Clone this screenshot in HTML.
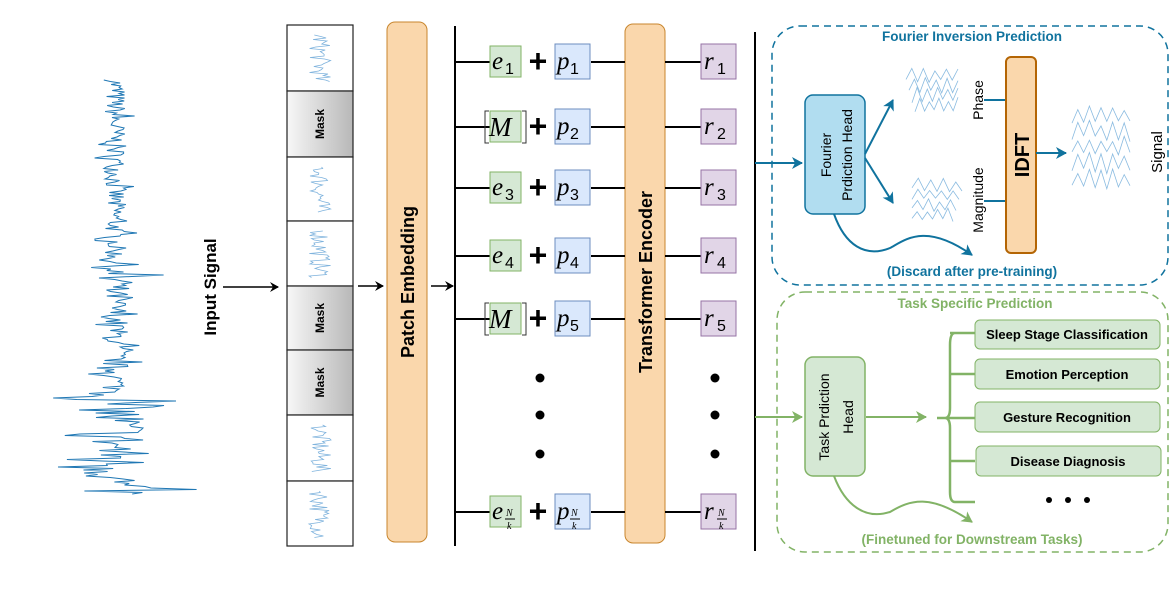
<!DOCTYPE html>
<html><head><meta charset="utf-8"><style>
html,body{margin:0;padding:0;background:#fff;width:1174px;height:590px;overflow:hidden}
svg{display:block}
text{font-family:"Liberation Sans",sans-serif}
.m{font-family:"Liberation Serif",serif;font-style:italic}
</style></head><body>
<svg id="s" width="1174" height="590" viewBox="0 0 1174 590" xmlns="http://www.w3.org/2000/svg">
<defs>
<linearGradient id="g" x1="0" x2="1" y1="0" y2="0"><stop offset="0" stop-color="#f7f7f7"/><stop offset="1" stop-color="#b8b8b8"/></linearGradient>
<marker id="ak" markerWidth="10" markerHeight="10" refX="8" refY="5" orient="auto" markerUnits="userSpaceOnUse"><path d="M0,0 L9,5 L0,10 L3,5 Z" fill="#000"/></marker>
<marker id="ab" markerWidth="12" markerHeight="12" refX="10" refY="6" orient="auto" markerUnits="userSpaceOnUse"><path d="M0,0 L11,6 L0,12 L3,6 Z" fill="#10739e"/></marker>
<marker id="ag" markerWidth="12" markerHeight="12" refX="10" refY="6" orient="auto" markerUnits="userSpaceOnUse"><path d="M0,0 L11,6 L0,12 L3,6 Z" fill="#82b366"/></marker>
</defs>
<g id="wave"></g>
<text transform="translate(216,287) rotate(-90)" text-anchor="middle" font-size="17" font-weight="bold">Input Signal</text>
<line x1="223" y1="287" x2="278" y2="287" stroke="#000" stroke-width="1.5" marker-end="url(#ak)"/>
<g id="patches"></g>
<line x1="358" y1="286" x2="383" y2="286" stroke="#000" stroke-width="1.5" marker-end="url(#ak)"/>
<rect x="387" y="22" width="40" height="520" rx="8" fill="#fad7ac" stroke="#c8862e" stroke-width="1"/>
<text transform="translate(414,282) rotate(-90)" text-anchor="middle" font-size="18" font-weight="bold">Patch Embedding</text>
<line x1="431" y1="286" x2="453" y2="286" stroke="#000" stroke-width="1.5" marker-end="url(#ak)"/>
<line x1="455" y1="26" x2="455" y2="546" stroke="#000" stroke-width="2"/>
<rect x="625" y="24" width="40" height="519" rx="8" fill="#fad7ac" stroke="#c8862e" stroke-width="1"/>
<text transform="translate(652,282) rotate(-90)" text-anchor="middle" font-size="18" font-weight="bold">Transformer Encoder</text>
<line x1="755" y1="32" x2="755" y2="551" stroke="#000" stroke-width="2"/>
<g id="rows"></g>
<g fill="#000"><circle cx="540" cy="378" r="4.5"/><circle cx="540" cy="415" r="4.5"/><circle cx="540" cy="454" r="4.5"/>
<circle cx="715" cy="378" r="4.5"/><circle cx="715" cy="415" r="4.5"/><circle cx="715" cy="454" r="4.5"/></g>
<rect x="772" y="26" width="396" height="259" rx="28" fill="none" stroke="#10739e" stroke-width="1.5" stroke-dasharray="7,5"/>
<text x="972" y="41" text-anchor="middle" font-size="13.5" font-weight="bold" fill="#10739e">Fourier Inversion Prediction</text>
<line x1="755" y1="163" x2="802" y2="163" stroke="#10739e" stroke-width="2" marker-end="url(#ab)"/>
<rect x="805" y="95" width="60" height="119" rx="8" fill="#b1ddf0" stroke="#10739e" stroke-width="1.5"/>
<text transform="translate(831,155) rotate(-90)" text-anchor="middle" font-size="14">Fourier</text>
<text transform="translate(852,155) rotate(-90)" text-anchor="middle" font-size="14">Prdiction Head</text>
<line x1="865" y1="154" x2="893" y2="100" stroke="#10739e" stroke-width="2" marker-end="url(#ab)"/>
<line x1="865" y1="158" x2="893" y2="203" stroke="#10739e" stroke-width="2" marker-end="url(#ab)"/>
<path d="M834,214 C845,245 865,258 890,248 C905,240 925,222 972,255" fill="none" stroke="#10739e" stroke-width="2" marker-end="url(#ab)"/>
<g id="fw" fill="none" stroke="#5a9fd4" stroke-width="0.8" opacity="0.7"></g>
<text transform="translate(983,100) rotate(-90)" text-anchor="middle" font-size="14">Phase</text>
<text transform="translate(983,200) rotate(-90)" text-anchor="middle" font-size="14">Magnitude</text>
<line x1="984" y1="100" x2="1006" y2="100" stroke="#10739e" stroke-width="2"/>
<line x1="984" y1="201" x2="1006" y2="201" stroke="#10739e" stroke-width="2"/>
<rect x="1006" y="57" width="30" height="196" rx="5" fill="#fad7ac" stroke="#b46504" stroke-width="2"/>
<text transform="translate(1029,155) rotate(-90)" text-anchor="middle" font-size="20" font-weight="bold">IDFT</text>
<line x1="1036" y1="153" x2="1066" y2="153" stroke="#10739e" stroke-width="2" marker-end="url(#ab)"/>
<text transform="translate(1162,152) rotate(-90)" text-anchor="middle" font-size="15">Signal</text>
<text x="972" y="276" text-anchor="middle" font-size="13.5" font-weight="bold" fill="#10739e">(Discard after pre-training)</text>
<rect x="777" y="292" width="391" height="260" rx="28" fill="none" stroke="#82b366" stroke-width="1.5" stroke-dasharray="7,5"/>
<text x="975" y="308" text-anchor="middle" font-size="13.5" font-weight="bold" fill="#82b366">Task Specific Prediction</text>
<line x1="755" y1="417" x2="802" y2="417" stroke="#82b366" stroke-width="2" marker-end="url(#ag)"/>
<rect x="805" y="357" width="60" height="119" rx="8" fill="#d5e8d4" stroke="#82b366" stroke-width="1.5"/>
<text transform="translate(829,417) rotate(-90)" text-anchor="middle" font-size="14">Task Prdiction</text>
<text transform="translate(853,417) rotate(-90)" text-anchor="middle" font-size="14">Head</text>
<line x1="866" y1="417" x2="926" y2="417" stroke="#82b366" stroke-width="2" marker-end="url(#ag)"/>
<path d="M937,418 L950,418 M955,333 Q950,333 950,345 L950,408 Q950,418 945,418 Q950,418 950,428 L950,492 Q950,502 955,502 M950,333 L975,333 M950,374 L975,374 M950,418 L975,418 M950,461 L975,461 M955,502 L975,502" fill="none" stroke="#82b366" stroke-width="2.5"/>
<path d="M834,476 C845,505 865,520 890,512 C910,500 930,493 972,522" fill="none" stroke="#82b366" stroke-width="2" marker-end="url(#ag)"/>
<g font-size="13" font-weight="bold" text-anchor="middle">
<rect x="975" y="320" width="185" height="29" rx="5" fill="#d5e8d4" stroke="#82b366"/><text x="1067" y="339">Sleep Stage Classification</text>
<rect x="975" y="359" width="185" height="30" rx="5" fill="#d5e8d4" stroke="#82b366"/><text x="1067" y="379">Emotion Perception</text>
<rect x="975" y="402" width="185" height="30" rx="5" fill="#d5e8d4" stroke="#82b366"/><text x="1067" y="422">Gesture Recognition</text>
<rect x="976" y="446" width="185" height="30" rx="5" fill="#d5e8d4" stroke="#82b366"/><text x="1068" y="466">Disease Diagnosis</text>
</g>
<g fill="#000"><circle cx="1049" cy="500" r="3"/><circle cx="1068" cy="500" r="3"/><circle cx="1087" cy="500" r="3"/></g>
<text x="972" y="544" text-anchor="middle" font-size="13.5" font-weight="bold" fill="#82b366">(Finetuned for Downstream Tasks)</text>
</svg>
<script>
var NS="http://www.w3.org/2000/svg";
var seed=7;function r(){seed=(seed*16807)%2147483647;return seed/2147483647;}
function el(t,a,p){var e=document.createElementNS(NS,t);for(var k in a)e.setAttribute(k,a[k]);(p||document.getElementById('s')).appendChild(e);return e;}
var pts=[];for(var y=80;y<=495;y+=1.5){var amp;
if(y<270)amp=16;else if(y<290)amp=(Math.abs(y-278)<5?75:22);else if(y<395)amp=20;else amp=55;
var d=(r()-0.5)*2*amp*(r()<0.12?1.5:0.7);pts.push((115+Math.max(-80,Math.min(83,d))).toFixed(1)+","+y.toFixed(1));}
el('polyline',{points:pts.join(' '),fill:'none',stroke:'#1f77b4','stroke-width':1},document.getElementById('wave'));
var b=[25,91,157,221,286,350,415,481,546],mask=[1,4,5];var P=document.getElementById('patches');
for(var i=0;i<8;i++){var y0=b[i],h=b[i+1]-b[i];var m=mask.indexOf(i)>=0;
el('rect',{x:287,y:y0,width:66,height:h,fill:m?'url(#g)':'#fff',stroke:'#222','stroke-width':1.2},P);
if(m){var t=el('text',{transform:'translate(324,'+(y0+h/2)+') rotate(-90)','text-anchor':'middle','font-size':12,'font-weight':'bold'},P);t.textContent='Mask';}
else{var q=[];for(var yy=y0+10;yy<y0+h-8;yy+=1.5){q.push((320+(r()-0.5)*22).toFixed(1)+','+yy.toFixed(1));}
el('polyline',{points:q.join(' '),fill:'none',stroke:'#7fb3dd','stroke-width':0.8},P);}}
var R=document.getElementById('rows');var ys=[62,127,188,256,319,512];var lab=['1','2','3','4','5','N'];
for(var i=0;i<6;i++){var y=ys[i];
el('line',{x1:455,y1:y,x2:490,y2:y,stroke:'#000','stroke-width':2},R);
el('line',{x1:591,y1:y,x2:625,y2:y,stroke:'#000','stroke-width':2},R);
el('line',{x1:665,y1:y,x2:701,y2:y,stroke:'#000','stroke-width':2},R);
el('rect',{x:490,y:y-16,width:31,height:31,fill:'#d5e8d4',stroke:'#82b366'},R);
el('rect',{x:555,y:y-18,width:35,height:35,fill:'#dae8fc',stroke:'#6c8ebf'},R);
el('rect',{x:701,y:y-18,width:35,height:35,fill:'#e1d5e7',stroke:'#9673a6'},R);
var pl=el('text',{x:538,y:y+10,'text-anchor':'middle','font-size':32,'font-weight':'bold'},R);pl.textContent='+';
var masked=(i==1||i==4);var sub=lab[i];
function mt(x,y,s,sb,p){var t=el('text',{x:x,y:y,'font-size':25,'class':'m'},p);t.textContent=s;
 if(sb=='N'){var a=el('text',{x:x+14,y:y-3,'font-size':10,'class':'m'},p);a.textContent='N';el('line',{x1:x+13,y1:y,x2:x+23,y2:y,stroke:'#000'},p);var c=el('text',{x:x+15,y:y+10,'font-size':10,'class':'m'},p);c.textContent='k';}
 else{var u=el('text',{x:x+13,y:y+5,'font-size':16,'font-family':'Liberation Serif'},p);u.textContent=sb;}}
if(masked){var t=el('text',{x:489,y:y+9,'font-size':27,'class':'m'},R);t.textContent='M';
 el('path',{d:'M489,'+(y-16)+' h-4 v32 h4 M522,'+(y-16)+' h4 v32 h-4',fill:'none',stroke:'#333'},R);}
else mt(492,y+7,'e',sub,R);
mt(557,y+7,'p',sub,R);mt(704,y+7,'r',sub,R);}
var F=document.getElementById('fw');
function zw(x0,x1,yc,a,n){var q=[];for(var k=0;k<=n;k++){var x=x0+(x1-x0)*k/n;q.push(x.toFixed(1)+','+(yc+(k%2?-1:1)*a*(0.4+r()*0.6)).toFixed(1));}
el('polyline',{points:q.join(' ')},F);}
for(var j=0;j<4;j++){zw(906+j*3,958,75+j*10,8,9);}
for(var j=0;j<4;j++){zw(912,962-j*3,185+j*10,7,8);}
for(var j=0;j<5;j++){zw(1072,1130,115+j*16,11,10);}
</script>
</body></html>
